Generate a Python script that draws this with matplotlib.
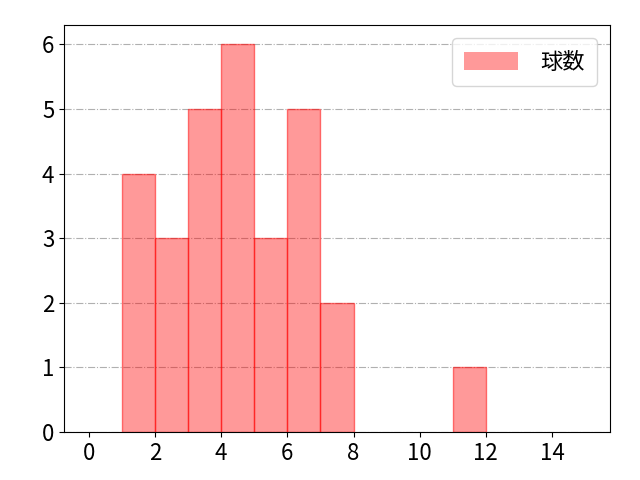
import numpy as np
import matplotlib
matplotlib.use("Agg")
import matplotlib.pyplot as plt

plt.rcParams['font.family'] = ['Noto Sans CJK JP', 'DejaVu Sans']

# histogram bins (left edges) and counts per bin
bin_edges = list(range(0, 16))
counts = [0, 4, 3, 5, 6, 3, 5, 2, 0, 0, 0, 1, 0, 0, 0]
label = "球数"

fig, ax = plt.subplots(figsize=(6.4, 4.8), dpi=100)
n, bins, patches = ax.hist(bin_edges[:-1], bins=bin_edges, weights=counts,
                           color=(1.0, 0.0, 0.0, 0.4), edgecolor=(1.0, 0.0, 0.0, 0.5),
                           linewidth=1.0, label=label)
# empty bins should not leave a red line on the baseline
for h, p in zip(n, patches):
    if h == 0:
        p.set_linewidth(0)

ax.grid(axis='y', linestyle='-.', color='#b0b0b0', linewidth=0.8)
ax.set_axisbelow(True)
ax.set_xticks(np.arange(0, 15, 2))
ax.tick_params(labelsize=16)
ax.legend(fontsize=16, loc='upper right', handlelength=2.4, handleheight=0.9,
          handletextpad=1.0, borderpad=0.55, borderaxespad=0.6)

fig.subplots_adjust(left=0.1, right=0.953, top=0.948, bottom=0.1)
fig.savefig("out.png")
